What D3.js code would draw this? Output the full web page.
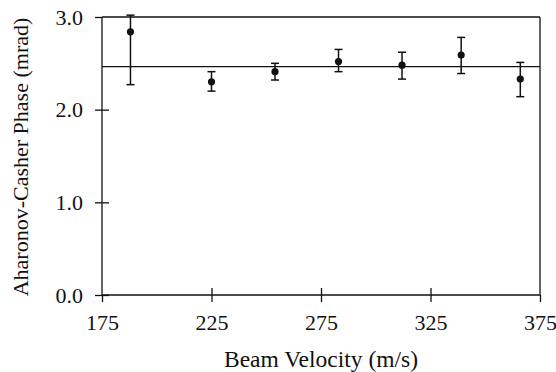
<!DOCTYPE html>
<html>
<head>
<meta charset="utf-8">
<script src="https://cdn.jsdelivr.net/npm/d3@7"></script>
<style>
  body { margin: 0; background: #fff; }
</style>
</head>
<body>
<div id="container"></div>
<script>
const velocity = [188, 225, 254, 283, 312, 339, 366];
const phase = [2.84, 2.30, 2.41, 2.52, 2.48, 2.59, 2.33];
const errLow = [2.27, 2.20, 2.32, 2.41, 2.33, 2.39, 2.14];
const errHigh = [3.02, 2.41, 2.50, 2.65, 2.62, 2.78, 2.51];
const meanPhase = 2.465;
const xTicks = [175, 225, 275, 325, 375];
const yTicks = [0, 1, 2, 3];

const FONT = '"Liberation Serif"';

const data = velocity.map((v, i) => ({
  v: v, p: phase[i], lo: errLow[i], hi: errHigh[i]
}));

const W = 556, H = 372;
const margin = { top: 17, right: 16, bottom: 77, left: 102 };
const width = W - margin.left - margin.right,
  height = H - margin.top - margin.bottom;

const svg = d3
  .select("#container")
  .append("svg")
  .attr("width", W)
  .attr("height", H);

const g = svg
  .append("g")
  .attr("transform", "translate(" + margin.left + "," + margin.top + ")");

const xScale = d3.scaleLinear().domain([175, 375]).range([0, width]);
const yScale = d3.scaleLinear().domain([0, 3]).range([height, 0]);

// frame: top and right borders
g.append("line")
  .attr("x1", xScale(175)).attr("x2", xScale(375))
  .attr("y1", yScale(3)).attr("y2", yScale(3))
  .attr("stroke", "#111").attr("stroke-width", 1.3);
g.append("line")
  .attr("x1", xScale(375)).attr("x2", xScale(375))
  .attr("y1", yScale(3)).attr("y2", yScale(0))
  .attr("stroke", "#111").attr("stroke-width", 1.3);

// axes (outward ticks with labels + inward ticks)
const xAxis = d3.axisBottom(xScale).tickValues(xTicks).tickSize(7).tickPadding(12)
  .tickFormat(d3.format("d"));
const xAxisIn = d3.axisTop(xScale).tickValues(xTicks.slice(1, -1)).tickSize(7).tickFormat("");
const yAxis = d3.axisLeft(yScale).tickValues(yTicks).tickSize(7).tickPadding(12)
  .tickFormat(d3.format(".1f"));
const yAxisIn = d3.axisRight(yScale).tickValues(yTicks.slice(0, -1)).tickSize(7).tickFormat("");

const xg = g.append("g").attr("id", "x-axis")
  .attr("transform", `translate(0, ${height})`).call(xAxis);
g.append("g").attr("transform", `translate(0, ${height})`).call(xAxisIn)
  .call((s) => s.select(".domain").remove());
const yg = g.append("g").attr("id", "y-axis").call(yAxis);
g.append("g").call(yAxisIn).call((s) => s.select(".domain").remove());

g.selectAll(".tick line").attr("stroke", "#111").attr("stroke-width", 1.3);
g.selectAll(".domain").attr("stroke", "#111").attr("stroke-width", 1.3)
  .attr("d", function () {
    return this.parentNode.id === "x-axis"
      ? `M0,0H${width}` : `M0,0V${height}`;
  });
[xg, yg].forEach((ax) => {
  ax.attr("font-family", null).attr("font-size", null);
  ax.selectAll("text")
    .style("font-family", FONT)
    .style("font-size", "22px")
    .style("fill", "#111");
});

// mean line
g.append("line")
  .attr("x1", xScale(175)).attr("x2", xScale(375))
  .attr("y1", yScale(meanPhase)).attr("y2", yScale(meanPhase))
  .attr("stroke", "#111").attr("stroke-width", 1.2);

// error bars
const cap = 4;
const bars = g.selectAll(".err").data(data).enter().append("g").attr("class", "err")
  .attr("stroke", "#111").attr("stroke-width", 1.5);
bars.append("line")
  .attr("x1", (d) => xScale(d.v)).attr("x2", (d) => xScale(d.v))
  .attr("y1", (d) => yScale(d.lo)).attr("y2", (d) => yScale(d.hi));
bars.append("line")
  .attr("x1", (d) => xScale(d.v) - cap).attr("x2", (d) => xScale(d.v) + cap)
  .attr("y1", (d) => yScale(d.lo)).attr("y2", (d) => yScale(d.lo));
bars.append("line")
  .attr("x1", (d) => xScale(d.v) - cap).attr("x2", (d) => xScale(d.v) + cap)
  .attr("y1", (d) => yScale(d.hi)).attr("y2", (d) => yScale(d.hi));

g.selectAll(".dot").data(data).enter().append("circle")
  .attr("class", "dot")
  .attr("cx", (d) => xScale(d.v))
  .attr("cy", (d) => yScale(d.p))
  .attr("r", 3.6)
  .style("fill", "#111");

// axis titles
svg.append("text")
  .attr("x", margin.left + width / 2)
  .attr("y", 367)
  .attr("text-anchor", "middle")
  .style("font-family", FONT)
  .style("font-size", "23.5px")
  .style("fill", "#111")
  .text("Beam Velocity (m/s)");
svg.append("text")
  .attr("transform", `translate(28, ${margin.top + height / 2 + 1}) rotate(-90)`)
  .attr("text-anchor", "middle")
  .style("font-family", FONT)
  .style("font-size", "22px")
  .style("fill", "#111")
  .text("Aharonov-Casher Phase (mrad)");
</script>
</body>
</html>
